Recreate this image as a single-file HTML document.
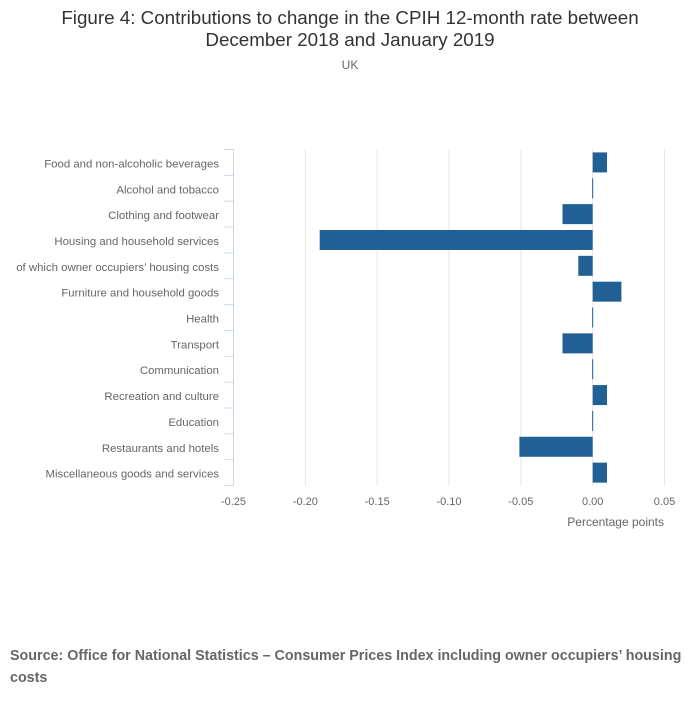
<!DOCTYPE html>
<html><head><meta charset="utf-8"><style>
body{margin:0;background:#fff;width:700px;height:707px;overflow:hidden;font-family:"Liberation Sans",sans-serif}
</style></head><body>
<svg width="700" height="707" id="svg" font-family="Liberation Sans, sans-serif">
<text x="350" y="24" text-anchor="middle" font-size="18.8" fill="#333">Figure 4: Contributions to change in the CPIH 12-month rate between</text>
<text x="350" y="46" text-anchor="middle" font-size="18.8" fill="#333">December 2018 and January 2019</text>
<text x="350" y="69" text-anchor="middle" font-size="12" fill="#666">UK</text>
<g id="grid"></g><g id="bars"></g><g id="axes"></g>
<text x="664" y="526" text-anchor="end" font-size="12" fill="#666">Percentage points</text>
<text x="10" y="660" font-size="14.3" font-weight="bold" fill="#666">Source: Office for National Statistics – Consumer Prices Index including owner occupiers’ housing</text>
<text x="10" y="682" font-size="14.3" font-weight="bold" fill="#666">costs</text>
</svg>
<script>
const categories=["Food and non-alcoholic beverages","Alcohol and tobacco","Clothing and footwear","Housing and household services","of which owner occupiers’ housing costs","Furniture and household goods","Health","Transport","Communication","Recreation and culture","Education","Restaurants and hotels","Miscellaneous goods and services"];
const values=[0.01,0,-0.021,-0.19,-0.01,0.02,0,-0.021,0,0.01,0,-0.051,0.01];
const ticks=[-0.25,-0.2,-0.15,-0.1,-0.05,0,0.05];
const tickLabels=["-0.25","-0.20","-0.15","-0.10","-0.05","0.00","0.05"];
const NS="http://www.w3.org/2000/svg";
const x0=233.5,x1=664.5,yTop=149.5,step=25.85;
const xs=v=>x0+(v+0.25)/0.30*(x1-x0);
const ys=i=>yTop+i*step;
function mk(p,t,a){const e=document.createElementNS(NS,t);for(const k in a)e.setAttribute(k,a[k]);p.appendChild(e);return e;}
const g=document.getElementById('grid'),b=document.getElementById('bars'),ax=document.getElementById('axes');
const yBottom=ys(categories.length);
ticks.forEach((t,i)=>{
 const x=xs(t);
 if(i>0){const l=mk(g,'line',{x1:x,x2:x,y1:yTop,y2:yBottom,stroke:'#e6e6e6'});
 
 }
 const tx=mk(ax,'text',{x:x,y:505,'text-anchor':'middle','font-size':11,fill:'#666'});
 tx.textContent=tickLabels[i];
 
 
});
const al=mk(ax,'line',{x1:x0,x2:x0,y1:yTop,y2:yBottom,stroke:'#ccd6eb'});


categories.forEach((c,i)=>{
 const y=ys(i);
 const tk=mk(ax,'line',{x1:x0-9,x2:x0,y1:y,y2:y,stroke:'#ccd6eb'});
 
 
 const lb=mk(ax,'text',{x:219,y:y+step/2+5,'text-anchor':'end','font-size':11.4,fill:'#666'});
 lb.textContent=c;
 
 
 const v=values[i],xa=xs(0),xv=xs(v);
 const w=Math.max(Math.abs(xv-xa),1);
 const r=mk(b,'rect',{x:Math.min(xa,xv)-(v===0?0.5:0),y:y+step/2-10,width:w,height:20,fill:'#206095'});
 
 
});
const bt=mk(ax,'line',{x1:x0-9,x2:x0,y1:yBottom,y2:yBottom,stroke:'#ccd6eb'});


</script>
</body></html>
